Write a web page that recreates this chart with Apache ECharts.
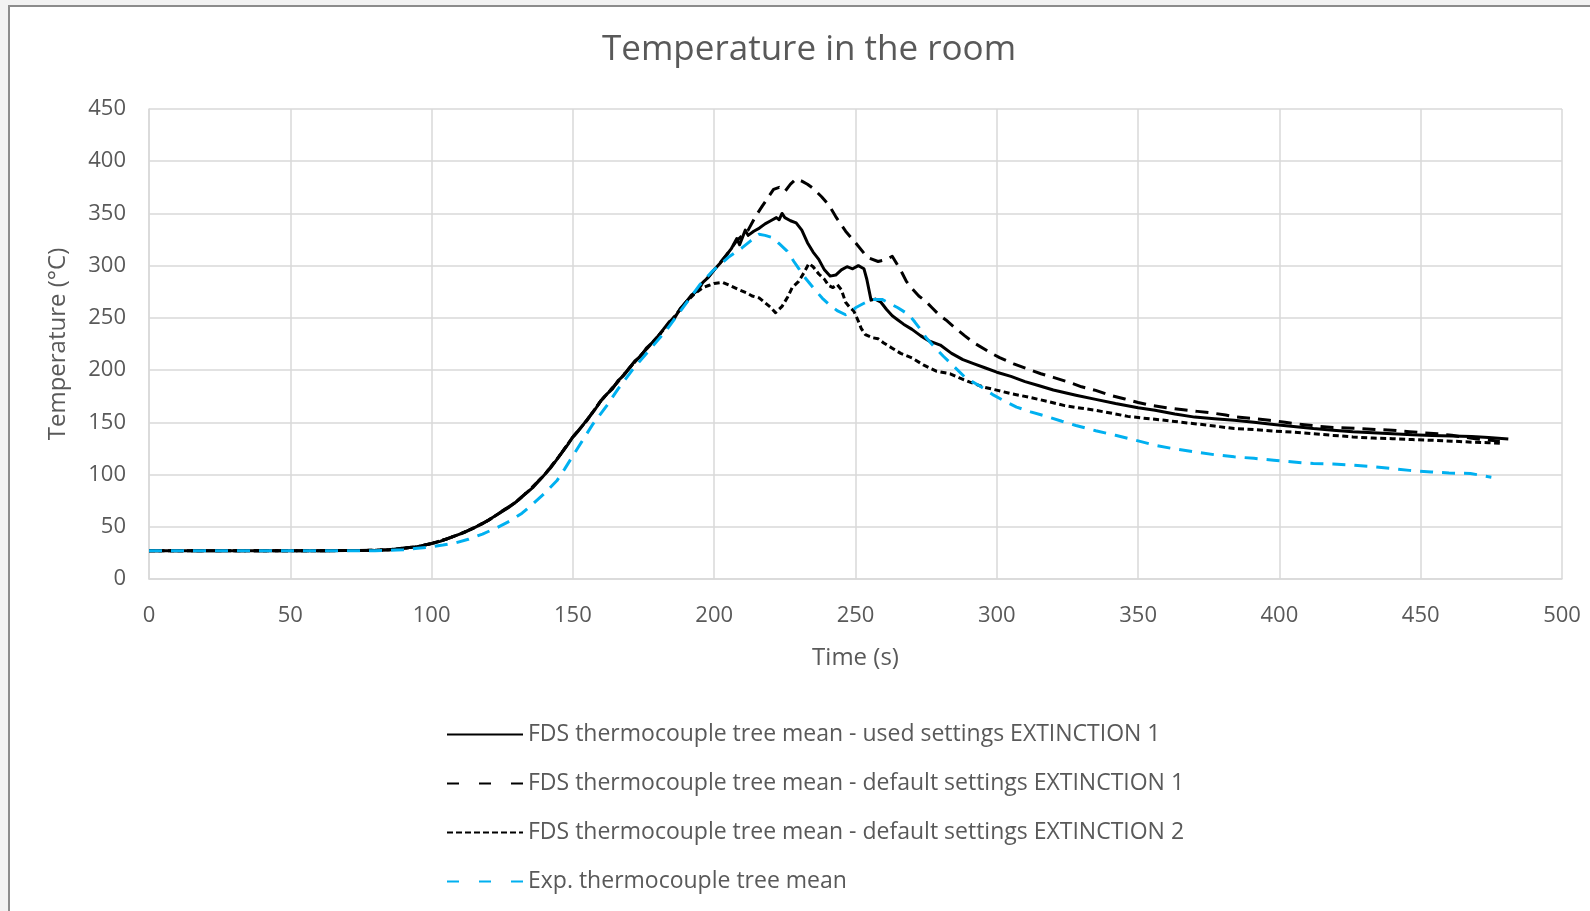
<!DOCTYPE html>
<html>
<head>
<meta charset="utf-8">
<title>Temperature in the room</title>
<script src="https://cdn.jsdelivr.net/npm/echarts@6/dist/echarts.min.js"></script>
<style>
  html, body { margin: 0; padding: 0; background: #f2f2f2; width: 1590px; height: 911px; overflow: hidden; }
  #chart {
    position: absolute; left: 10px; top: 7px; width: 1580px; height: 904px;
    background: #ffffff; border-left: 2px solid #8c8c8c; border-top: 2px solid #8c8c8c;
    margin-left: -2px; margin-top: -2px;
  }
</style>
</head>
<body>
<div id="chart"></div>
<script>
// Time (s) and temperature (°C) for each run
const usedExt1Time = [0,20,40,60,80,85,90,95,100,103,106,109,112,115,118,121,124,127,130,133,136,139,142,145,148,150,152,154,156,158,160,162,164,166,168,170,172,174,176,178,180,182,184,186,188,190,192,194,196,198,200,202,204,206,208,209,211,212,214,216,218,220,222,223,224,225,227,229,231,233,235,237,239,241,243,245,247,249,251,253,254,255.5,257,259,261,263,265,267,270,273,276,280,284,288,292,296,300,305,310,315,320,328,335,342,350,356,363,370,377,384,391,398,405,412,419,426,433,440,447,454,461,468,474,481];
const usedExt1Temp = [27,27,27,27,27.5,28,29.5,31,34,36,39,42,45,49,53,58,63,68,74,81,88,97,106,117,128,136,142,149,156,163,171,177,182,190,195,202,209,213,221,226,232,239,246,250,259,265,272,276,284,289,296,302,309,316,326,320,334,329,333,336,340,343,346,344,350,346,343,341,334,322,313,306,296,290,291,296,299,297,300,297,287,267,268,265,258,252,248,244,239,233,228,224,216,210,206,202,198,194,189,185,181,176,172,168,164,161.5,158,155,153.5,152,150,148,146,144,142.5,141,140,139,138,137.5,137,136.5,135.5,134];

const defaultExt1Time = [0,20,40,60,80,85,90,95,100,105,110,115,120,125,130,135,140,145,150,155,160,165,170,175,180,185,190,195,200,204,208,212,214.6,217,219,221,223,225,227,229,231,233,235,238,240.6,243,246.5,250,253,255,258,261,263,265,266.5,268,270,272.4,274.8,277,279.5,282,285,288.6,292,297.5,301,306,311,315.6,320,325.4,330,335,340,345,350,355,360,366,371,376,381,385,391,396.5,402,408,413,419,424,429,435,440,446,451,456,461,466,470,474,478];
const defaultExt1Temp = [27,27,27,27,27.5,28,29.5,31,34,38,43,49,56,65,74,86,100,117,136,152,171,186,202,217,232,248,265,280,296,309,324,334,347,357,365,373,375,371,378,383,381,378,374,366,358,347,333,322,312,307,304,306,309,300,293,285,278,271,266,260,253,248,241,233,226,217,212,206,201,196.5,193,188.5,184,180.6,176,172.6,169,166,164,162,160.5,159,157,155,153.5,152,150,148,146.5,145,144.5,144,143,142.4,141,140,139,137.6,135.5,134,133,132];

const defaultExt2Time = [0,20,40,60,80,85,90,95,100,105,110,115,120,125,130,135,140,145,150,155,160,165,170,175,180,185,190,193,196,198,200,203,205.5,208.7,211.5,213.4,216,218,220,221.7,224,226,227.6,229.9,231.7,233.5,235,237,239,240.5,242,243.5,245,246.5,248,249.4,251,252,253.5,256,258,260,263,266,270,274,278.6,283.5,286.8,290.5,295,300.3,305,311.4,318,324,330,335,341,346.3,352,357.5,364,370,377,384,391,398,405,412,419,426,433,440,447,454,461,468,474,478];
const defaultExt2Temp = [27,27,27,27,27.5,28,29.5,31,34,38,43,49,56,65,74,86,100,117,136,152,171,186,202,217,232,248,265,273,279,281,283,284,281,277,274,271,269,264.5,260,255,261,270,279,285,293,302,299,292,287,281,279,282,277,265,260,256.5,247,240,234,231,230,226,221,216,211.6,205,199,196.5,192.5,188.5,184,180.6,177.5,174,170,166,163.5,161.5,158.5,155.7,154,152.5,150.5,148.7,146.5,144,143,141.7,140.5,139,137.5,136,135,134.4,133.5,132.8,132,131,130.5,130];

const expTime = [0,20,40,60,80,90,95,99.4,104,108.8,113,118,123,127.7,132,135.8,140,144.3,147,150,153.5,157,162,166,171,177,183,189,195,199.5,205,209.8,213,215.8,218,220.5,223,225.8,228.2,230,232.3,235,238.2,240.6,243.5,246.5,248,250,253,255.9,259.4,262,265,268.9,271,273,275,278,281,285,289,294,298.9,303,307,312,318.4,323,328,335,342,349,356,363,370,377,384,391,398,405,412,419,426,433,439.8,446,453.7,460,467.6,475];
const expTemp = [27,27,27,27,27,28,29.5,30.6,32.5,34.8,38,43,49,55.5,63,71.8,82,94,105,118,133,148,166,182,200,219,238,260,282,295,308,317,324,330,329,327,321,314,304,297,288,279,269,263,257,253,255,259.7,264,267.7,267.7,264,259.7,253,246,239,231,222,213.5,203,192.5,184.8,176,170,164.6,160,155,151,147,142,137.6,133,128,124.5,121.7,119,117,115.5,113.7,112,110.5,110,109,107.5,105.7,104,102.5,101.5,101,97.5];

const seriesNames = [
  'FDS thermocouple tree mean - used settings EXTINCTION 1',
  'FDS thermocouple tree mean - default settings EXTINCTION 1',
  'FDS thermocouple tree mean - default settings EXTINCTION 2',
  'Exp. thermocouple tree mean'
];
const xTicks = { min: 0, max: 500, step: 50 };
const yTicks = { min: 0, max: 450, step: 50 };

const zip = (t, v) => t.map((x, i) => [x, v[i]]);
const font = '"Open Sans", "Noto Sans", sans-serif';
const grey = '#595959';

const chart = echarts.init(document.getElementById('chart'), null, { renderer: 'canvas' });

function lineSeries(name, t, v, color, type, width) {
  return {
    name, type: 'line', data: zip(t, v), showSymbol: false, symbol: 'none',
    animation: false, smooth: false,
    lineStyle: { color, width, type, cap: 'butt', join: 'round' },
    itemStyle: { color }
  };
}

// Legend swatches use their own dash spacing
const legendDashes = ['solid', [12, 20], [6, 3], [12, 20]];

chart.setOption({
  backgroundColor: '#ffffff',
  animation: false,
  title: {
    text: 'Temperature in the room',
    left: 587,
    top: 21,
    textStyle: { fontFamily: font, fontSize: 35, fontWeight: 'normal', color: grey }
  },
  grid: { left: 139, top: 102, width: 1413, height: 470, containLabel: false },
  legend: {
    orient: 'vertical',
    left: 431,
    top: 711,
    itemWidth: 76,
    itemHeight: 14,
    itemGap: 26,
    itemStyle: { opacity: 0 },
    lineStyle: { opacity: 1 },
    textStyle: { fontFamily: font, fontSize: 23, color: grey },
    data: seriesNames.map((name, i) => ({ name, lineStyle: { type: legendDashes[i], opacity: 1 } }))
  },
  xAxis: {
    type: 'value', min: xTicks.min, max: xTicks.max, interval: xTicks.step,
    name: 'Time (s)', nameLocation: 'middle', nameGap: 67,
    nameTextStyle: { fontFamily: font, fontSize: 24, color: grey },
    axisLine: { show: true, lineStyle: { color: '#d9d9d9', width: 1.5 } },
    axisTick: { show: false },
    axisLabel: { fontFamily: font, fontSize: 22, color: grey, margin: 26 },
    splitLine: { show: true, lineStyle: { color: '#d9d9d9', width: 1.5 } }
  },
  yAxis: {
    type: 'value', min: yTicks.min, max: yTicks.max, interval: yTicks.step,
    name: 'Temperature (°C)', nameLocation: 'middle', nameGap: 79,
    nameTextStyle: { fontFamily: font, fontSize: 24, color: grey },
    axisLine: { show: true, lineStyle: { color: '#d9d9d9', width: 1.5 } },
    axisTick: { show: false },
    axisLabel: { fontFamily: font, fontSize: 22, color: grey, margin: 23 },
    splitLine: { show: true, lineStyle: { color: '#d9d9d9', width: 1.5 } }
  },
  series: [
    lineSeries(seriesNames[0], usedExt1Time, usedExt1Temp, '#000000', 'solid', 3),
    lineSeries(seriesNames[1], defaultExt1Time, defaultExt1Temp, '#000000', [13, 8], 3),
    lineSeries(seriesNames[2], defaultExt2Time, defaultExt2Temp, '#000000', [6, 3.5], 3),
    lineSeries(seriesNames[3], expTime, expTemp, '#00b0f0', [13, 9], 3)
  ]
});
</script>
</body>
</html>
